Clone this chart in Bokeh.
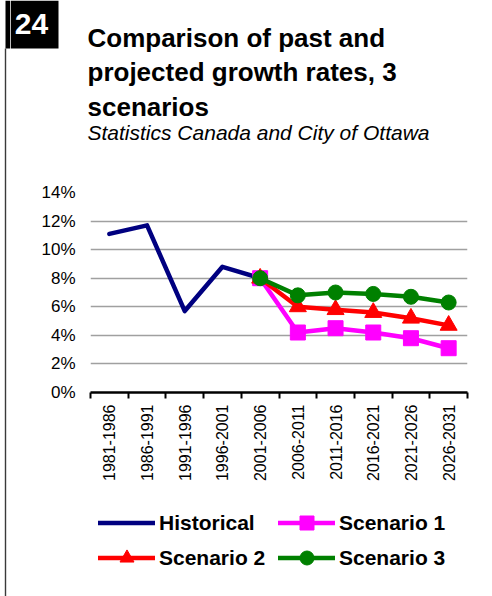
import math
from bokeh.plotting import figure
from bokeh.layouts import row, column
from bokeh.models import (FixedTicker, PrintfTickFormatter, Legend, LegendItem, Label)
from bokeh.embed import file_html
from bokeh.resources import INLINE

# ---------------- data ----------------
periods = ["1981-1986", "1986-1991", "1991-1996", "1996-2001", "2001-2006",
           "2006-2011", "2011-2016", "2016-2021", "2021-2026", "2026-2031"]
historical = [11.1, 11.7, 5.7, 8.8, 8.0]
scenario1 = [8.0, 4.2, 4.5, 4.2, 3.8, 3.1]
scenario2 = [8.0, 6.0, 5.8, 5.6, 5.2, 4.7]
scenario3 = [8.0, 6.8, 7.0, 6.9, 6.7, 6.3]
y_ticks = [0, 2, 4, 6, 8, 10, 12, 14]

series_names = ["Historical", "Scenario 1", "Scenario 2", "Scenario 3"]
series_colors = ["#000080", "#ff00ff", "#ff0000", "#008000"]
series_markers = [None, "square", "triangle", "circle"]
marker_sizes = [0, 15, 17, 15]

title_lines = ["Comparison of past and", "projected growth rates, 3", "scenarios"]
subtitle = "Statistics Canada and City of Ottawa"
chart_number = "24"

FONT = "Liberation Sans"
PAGE_W, PAGE_H = 492, 596
STRIP_W = 10        # left strip holding the page rule
TOP_H = 180         # header height
CHART_BOTTOM = 500  # page y where the legend strip begins
LW = 4.5


def bare(fig):
    fig.grid.visible = False
    fig.outline_line_color = None
    return fig


# ---------------- left strip (page rule) ----------------
s = bare(figure(width=STRIP_W, height=PAGE_H, x_range=(0, STRIP_W), y_range=(PAGE_H, 0),
                output_backend="svg", toolbar_location=None, min_border=0,
                x_axis_type=None, y_axis_type=None, frame_align=False))
s.quad(left=[5], right=[STRIP_W], top=[0], bottom=[48], fill_color="black", line_color=None)
s.segment(x0=[5], y0=[48], x1=[5], y1=[PAGE_H], line_color="#3a3a3a", line_width=1.4)

# ---------------- header ----------------
hw = PAGE_W - STRIP_W
t = bare(figure(width=hw, height=TOP_H, x_range=(STRIP_W, PAGE_W), y_range=(TOP_H, 0),
                output_backend="svg", toolbar_location=None, min_border=0,
                x_axis_type=None, y_axis_type=None, frame_align=False))
t.quad(left=[STRIP_W], right=[58], top=[0], bottom=[48], fill_color="black", line_color=None)
t.add_layout(Label(x=31, y=23, text=chart_number, text_color="white", text_font=FONT,
                   text_font_style="bold", text_font_size="30px",
                   text_align="center", text_baseline="middle"))
for i, line in enumerate(title_lines):
    t.add_layout(Label(x=87, y=37 + 34.5 * i, text=line, text_color="black",
                       text_font=FONT, text_font_style="bold", text_font_size="26px",
                       text_align="left", text_baseline="alphabetic"))
t.add_layout(Label(x=87, y=132, text=subtitle, text_color="black", text_font=FONT,
                   text_font_style="italic", text_font_size="21px",
                   text_align="left", text_baseline="alphabetic"))

# ---------------- chart ----------------
CH = CHART_BOTTOM - TOP_H
BL = 90 - STRIP_W
FW, FH = 377, 200
BT = 192 - TOP_H
p = figure(width=hw, height=CH, x_range=(-0.5, len(periods) - 0.5),
           y_range=(y_ticks[0], y_ticks[-1]),
           output_backend="svg", toolbar_location=None, frame_align=False,
           min_border_left=BL, min_border_right=hw - BL - FW,
           min_border_top=BT, min_border_bottom=CH - BT - FH)
p.outline_line_color = None

p.xgrid.visible = False
p.yaxis.ticker = FixedTicker(ticks=y_ticks)
p.yaxis.formatter = PrintfTickFormatter(format="%d%%")
p.yaxis.axis_line_color = None
p.yaxis.major_tick_line_color = None
p.yaxis.minor_tick_line_color = None
p.yaxis.major_tick_out = 0
p.yaxis.major_label_standoff = 15
p.yaxis.major_label_text_font = FONT
p.yaxis.major_label_text_font_size = "17px"
p.yaxis.major_label_text_color = "black"
p.ygrid.grid_line_color = "#a0a0a0"
p.ygrid.grid_line_width = 1.5

idx = list(range(len(periods)))
p.xaxis.ticker = FixedTicker(ticks=idx, minor_ticks=[i - 0.5 for i in range(len(periods) + 1)])
p.xaxis.major_label_overrides = {i: periods[i] for i in idx}
p.xaxis.major_label_orientation = math.pi / 2
p.xaxis.major_tick_line_color = None
p.xaxis.major_tick_in = 0
p.xaxis.major_tick_out = 6
p.xaxis.minor_tick_line_color = "black"
p.xaxis.minor_tick_line_width = 2
p.xaxis.minor_tick_in = 0
p.xaxis.minor_tick_out = 6
p.xaxis.axis_line_color = "black"
p.xaxis.axis_line_width = 2.5
p.xaxis.major_label_standoff = 6
p.xaxis.major_label_text_font = FONT
p.xaxis.major_label_text_font_size = "16px"
p.xaxis.major_label_text_color = "black"

hx = idx[:len(historical)]
sxs = idx[len(historical) - 1:]
values = [historical, scenario1, scenario2, scenario3]
xs_all = [hx, sxs, sxs, sxs]

for xs, ys, c, mk, ms in zip(xs_all, values, series_colors, series_markers, marker_sizes):
    p.line(xs, ys, line_color=c, line_width=LW, line_join="round", line_cap="round")
    if mk:
        p.scatter(xs, ys, marker=mk, size=ms, fill_color=c, line_color=c)

# ---------------- legend strip ----------------
LH = PAGE_H - CHART_BOTTOM
lg = bare(figure(width=hw, height=LH, x_range=(0, 1), y_range=(0, 1),
                 output_backend="svg", toolbar_location=None, min_border=0,
                 x_axis_type=None, y_axis_type=None, frame_align=False))
items = []
for name, c, mk, ms in zip(series_names, series_colors, series_markers, marker_sizes):
    # proxy renderers kept outside the visible range; they only feed the legend swatches
    rs = [lg.line([-5, -4], [-5, -4], line_color=c, line_width=LW, line_cap="round")]
    if mk:
        rs.append(lg.scatter([-5], [-5], marker=mk, size=ms, fill_color=c, line_color=c))
    items.append(LegendItem(label=name, renderers=rs))

# legend bottom-left corner, in pixels from the strip's bottom-left
legend = Legend(items=items, location=(98 - STRIP_W, PAGE_H - 575),
                ncols=2, orientation="horizontal")
legend.glyph_width = 57
legend.glyph_height = 35
legend.label_height = 35
legend.label_width = 119
legend.label_standoff = 4
legend.spacing = 0
legend.padding = 0
legend.margin = 0
legend.border_line_color = None
legend.background_fill_alpha = 0
legend.label_text_font = FONT
legend.label_text_font_style = "bold"
legend.label_text_font_size = "21px"
legend.label_text_color = "black"
lg.add_layout(legend)

layout = row(s, column(t, p, lg, spacing=0), spacing=0)
open("out.html", "w").write(file_html(layout, INLINE))
